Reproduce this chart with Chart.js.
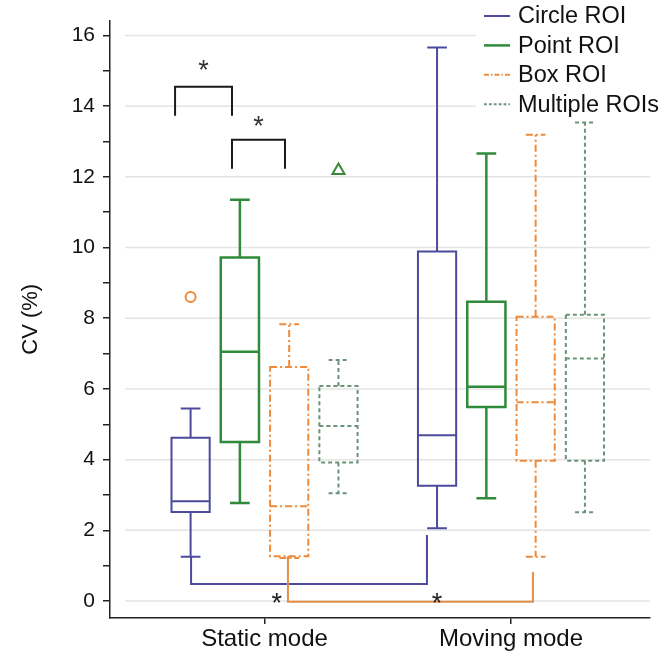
<!DOCTYPE html>
<html>
<head>
<meta charset="utf-8">
<script src="https://cdn.jsdelivr.net/npm/chart.js@4.4.0/dist/chart.umd.min.js"></script>
<style>
  html, body { margin: 0; padding: 0; background: #fff; }
  #wrap { width: 662px; height: 655px; }
</style>
</head>
<body>
<div id="wrap"><canvas id="cv"></canvas></div>
<script>
/* ============================================================
   DATA
============================================================ */
const groups = ["Static mode", "Moving mode"];
const seriesNames = ["Circle ROI", "Point ROI", "Box ROI", "Multiple ROIs"];
const yTickValues = [0, 1, 2, 3, 4, 5, 6, 7, 8, 9, 10, 11, 12, 13, 14, 15, 16];

// five-number summaries, one value per group (static, moving)
const circleMin = [1.25, 2.06];
const circleQ1 = [2.52, 3.26];
const circleMed = [2.82, 4.69];
const circleQ3 = [4.62, 9.89];
const circleMax = [5.45, 15.66];

const pointMin = [2.77, 2.91];
const pointQ1 = [4.5, 5.49];
const pointMed = [7.05, 6.06];
const pointQ3 = [9.72, 8.47];
const pointMax = [11.35, 12.66];

const boxMin = [1.22, 1.25];
const boxQ1 = [1.27, 3.97];
const boxMed = [2.68, 5.62];
const boxQ3 = [6.62, 8.04];
const boxMax = [7.83, 13.19];

const multiMin = [3.05, 2.51];
const multiQ1 = [3.92, 3.97];
const multiMed = [4.95, 6.86];
const multiQ3 = [6.08, 8.1];
const multiMax = [6.82, 13.54];

// outliers: group index, slot index, value
const circleMarkGroup = [0];
const circleMarkSlot = [0];
const circleMarkValue = [8.6];
const triangleMarkGroup = [0];
const triangleMarkSlot = [3];
const triangleMarkValue = [12.18];

// significance brackets (x in group units, y in CV %)
const topBracketX1 = [0.637, 0.868];
const topBracketX2 = [0.868, 1.083];
const topBracketTop = [14.55, 13.05];
const topBracketLeg = [13.73, 12.23];
const topStarY = [15.2, 13.6];

const lowBracketX1 = [0.702, 1.095];
const lowBracketX2 = [1.659, 2.089];
const lowBracketY = [0.48, -0.02];
const lowBracketLeft = [1.25, 1.27];
const lowBracketRight = [1.87, 0.82];
const lowStarX = [1.05, 1.7];
const lowStarY = [0.12, 0.12];

/* ============================================================
   STYLE
============================================================ */
const FONT = "'Liberation Sans', Arial, Helvetica, sans-serif";
const slotOffset = [-0.3, -0.1, 0.1, 0.3];
const boxWidth = 0.155;
const capWidth = 0.08;

const styles = [
  { color: "#4c4a9d", dash: [], width: 2 },
  { color: "#2f8a39", dash: [], width: 2.5 },
  { color: "#ee8a3a", dash: [7, 3, 2, 3], width: 2 },
  { color: "#6b927a", dash: [4, 3], width: 2 },
];

const summaries = [
  [circleMin, circleQ1, circleMed, circleQ3, circleMax],
  [pointMin, pointQ1, pointMed, pointQ3, pointMax],
  [boxMin, boxQ1, boxMed, boxQ3, boxMax],
  [multiMin, multiQ1, multiMed, multiQ3, multiMax],
];

const slotX = (g, s) => g + 1 + slotOffset[s];

/* ============================================================
   PLUGIN: gridlines, boxes, brackets, legend
============================================================ */
const boxPlotPlugin = {
  id: "boxPlot",
  beforeDatasetsDraw(chart) {
    const { ctx, chartArea } = chart;
    const x = chart.scales.x;
    const y = chart.scales.y;

    // light gridlines at even ticks
    ctx.save();
    ctx.strokeStyle = "#e4e4e4";
    ctx.lineWidth = 1.5;
    yTickValues.filter((v) => v % 2 === 0).forEach((v) => {
      const py = y.getPixelForValue(v);
      ctx.beginPath();
      ctx.moveTo(chartArea.left + 15, py);
      ctx.lineTo(chartArea.right, py);
      ctx.stroke();
    });
    ctx.restore();

    // boxes
    summaries.forEach((sum, s) => {
      const st = styles[s];
      const [mn, q1, md, q3, mx] = sum;
      groups.forEach((_, g) => {
        const cx = slotX(g, s);
        const xl = x.getPixelForValue(cx - boxWidth / 2);
        const xr = x.getPixelForValue(cx + boxWidth / 2);
        const xc = x.getPixelForValue(cx);
        const cl = x.getPixelForValue(cx - capWidth / 2);
        const cr = x.getPixelForValue(cx + capWidth / 2);
        const pq1 = y.getPixelForValue(q1[g]);
        const pq3 = y.getPixelForValue(q3[g]);
        const pmd = y.getPixelForValue(md[g]);
        const pmn = y.getPixelForValue(mn[g]);
        const pmx = y.getPixelForValue(mx[g]);

        ctx.save();
        ctx.strokeStyle = st.color;
        ctx.lineWidth = st.width;
        ctx.setLineDash(st.dash);
        ctx.beginPath();
        ctx.rect(xl, pq3, xr - xl, pq1 - pq3);
        ctx.moveTo(xl, pmd);
        ctx.lineTo(xr, pmd);
        ctx.moveTo(xc, pq3);
        ctx.lineTo(xc, pmx);
        ctx.moveTo(cl, pmx);
        ctx.lineTo(cr, pmx);
        ctx.moveTo(xc, pq1);
        ctx.lineTo(xc, pmn);
        ctx.moveTo(cl, pmn);
        ctx.lineTo(cr, pmn);
        ctx.stroke();
        ctx.restore();
      });
    });

    // top brackets (black)
    ctx.save();
    ctx.strokeStyle = "#1a1a1a";
    ctx.lineWidth = 2;
    ctx.fillStyle = "#333";
    ctx.font = `27px ${FONT}`;
    ctx.textAlign = "center";
    ctx.textBaseline = "alphabetic";
    topBracketX1.forEach((x1, i) => {
      const a = x.getPixelForValue(x1);
      const b = x.getPixelForValue(topBracketX2[i]);
      const t = y.getPixelForValue(topBracketTop[i]);
      const l = y.getPixelForValue(topBracketLeg[i]);
      ctx.beginPath();
      ctx.moveTo(a, l);
      ctx.lineTo(a, t);
      ctx.lineTo(b, t);
      ctx.lineTo(b, l);
      ctx.stroke();
      ctx.fillText("*", (a + b) / 2, y.getPixelForValue(topStarY[i]) + 15);
    });
    ctx.restore();

    // lower brackets (series coloured)
    const lowColors = [styles[0].color, "#e48f48"];
    lowBracketX1.forEach((x1, i) => {
      const a = x.getPixelForValue(x1);
      const b = x.getPixelForValue(lowBracketX2[i]);
      const h = y.getPixelForValue(lowBracketY[i]);
      ctx.save();
      ctx.strokeStyle = lowColors[i];
      ctx.lineWidth = 2;
      ctx.beginPath();
      ctx.moveTo(a, y.getPixelForValue(lowBracketLeft[i]));
      ctx.lineTo(a, h);
      ctx.lineTo(b, h);
      ctx.lineTo(b, y.getPixelForValue(lowBracketRight[i]));
      ctx.stroke();
      ctx.restore();
    });
    ctx.save();
    ctx.fillStyle = "#222";
    ctx.font = `27px ${FONT}`;
    ctx.textAlign = "center";
    lowStarX.forEach((sx, i) => {
      ctx.fillText("*", x.getPixelForValue(sx), y.getPixelForValue(lowStarY[i]) + 15);
    });
    ctx.restore();
  },
  afterDraw(chart) {
    const { ctx } = chart;
    // legend, top right over the plot
    ctx.save();
    ctx.fillStyle = "#fff";
    ctx.fillRect(476, 0, 186, 118);
    ctx.font = `23.5px ${FONT}`;
    ctx.textBaseline = "middle";
    ctx.textAlign = "left";
    seriesNames.forEach((name, i) => {
      const ry = 16 + i * 29.4;
      const st = styles[i];
      ctx.strokeStyle = st.color;
      ctx.lineWidth = st.width;
      ctx.setLineDash(st.dash.map((d) => d * 0.7));
      ctx.beginPath();
      ctx.moveTo(484, ry);
      ctx.lineTo(510, ry);
      ctx.stroke();
      ctx.setLineDash([]);
      ctx.fillStyle = "#111";
      ctx.fillText(name, 518, ry + 1);
    });
    ctx.restore();
  },
};

/* ============================================================
   CHART
============================================================ */
const ctx = document.getElementById("cv");

new Chart(ctx, {
  type: "scatter",
  data: {
    datasets: [
      {
        label: "outlier circle",
        data: circleMarkValue.map((v, i) => ({
          x: slotX(circleMarkGroup[i], circleMarkSlot[i]),
          y: v,
        })),
        pointStyle: "circle",
        pointRadius: 5,
        borderColor: "#ee8a3a",
        backgroundColor: "#fff",
        borderWidth: 2,
      },
      {
        label: "outlier triangle",
        data: triangleMarkValue.map((v, i) => ({
          x: slotX(triangleMarkGroup[i], triangleMarkSlot[i]),
          y: v,
        })),
        pointStyle: "triangle",
        pointRadius: 7,
        borderColor: "#3b8a3b",
        backgroundColor: "#fff",
        borderWidth: 2,
      },
    ],
  },
  options: {
    responsive: true,
    maintainAspectRatio: false,
    animation: false,
    layout: { padding: { top: 20, right: 12, left: 0, bottom: 0 } },
    plugins: {
      legend: { display: false },
      tooltip: { enabled: false },
    },
    scales: {
      x: {
        type: "linear",
        min: 0.373,
        max: 2.564,
        afterFit: (s) => { s.height = 37; },
        afterBuildTicks: (s) => { s.ticks = groups.map((_, i) => ({ value: i + 1 })); },
        ticks: {
          autoSkip: false,
          maxRotation: 0,
          padding: 1,
          color: "#111",
          font: { family: FONT, size: 24 },
          callback: (v) => groups[Math.round(v) - 1] || "",
        },
        grid: { drawOnChartArea: false, tickLength: 6, color: "#222", lineWidth: 1.5 },
        border: { color: "#222", width: 1.5 },
      },
      y: {
        min: -0.48,
        max: 16.42,
        afterFit: (s) => { s.width = 110; },
        afterBuildTicks: (s) => { s.ticks = yTickValues.map((v) => ({ value: v })); },
        ticks: {
          autoSkip: false,
          padding: 8,
          color: "#111",
          font: { family: FONT, size: 21 },
          callback: (v) => (v % 2 === 0 ? String(v) : ""),
        },
        grid: { drawOnChartArea: false, tickLength: 7, color: "#222", lineWidth: 1.5 },
        border: { color: "#222", width: 1.5 },
        title: {
          display: true,
          text: "CV (%)",
          color: "#111",
          font: { family: FONT, size: 22 },
          padding: { top: 18, bottom: 0 },
        },
      },
    },
  },
  plugins: [boxPlotPlugin],
});
</script>
</body>
</html>
